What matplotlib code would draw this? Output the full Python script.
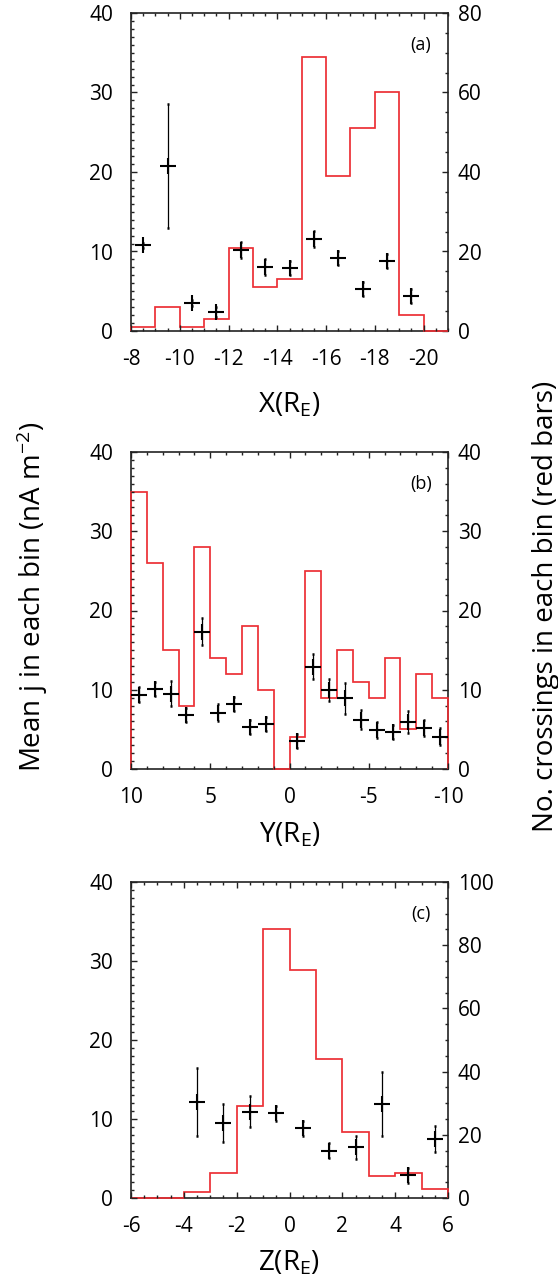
import numpy as np
import matplotlib
matplotlib.use("Agg")
import matplotlib.pyplot as plt
from matplotlib.ticker import MultipleLocator

# ==========================
# DATA
# ==========================
nan = np.nan

# panel (a): X
a_edges = [-8, -9, -10, -11, -12, -13, -14, -15, -16, -17, -18, -19, -20, -21]
a_counts = [1, 6, 1, 3, 21, 11, 13, 69, 39, 51, 60, 4, 0]
a_mean = [10.8, 20.7, 3.5, 2.4, 10.2, 8.1, 7.9, 11.6, 9.2, 5.3, 8.8, 4.4, nan]
a_err = [0.3, 7.8, 0.4, 0.6, 1.0, 1.0, 0.9, 1.0, 0.9, 0.9, 0.9, 0.9, nan]

# panel (b): Y
b_edges = [10, 9, 8, 7, 6, 5, 4, 3, 2, 1, 0, -1, -2, -3, -4, -5, -6, -7, -8, -9, -10]
b_counts = [35, 26, 15, 8, 28, 14, 12, 18, 10, 0, 4, 25, 9, 15, 11, 9, 14, 5, 12, 9]
b_mean = [9.4, 10.1, 9.5, 6.8, 17.3, 7.1, 8.2, 5.3, 5.7, nan,
          3.5, 12.9, 10.0, 8.9, 6.2, 4.9, 4.7, 5.9, 5.2, 4.1]
b_err = [0.9, 0.9, 1.6, 0.9, 1.7, 1.1, 0.9, 0.9, 0.9, nan,
         0.9, 1.6, 1.4, 2.0, 1.2, 1.0, 0.9, 1.4, 1.0, 1.1]

# panel (c): Z
c_edges = [-6, -5, -4, -3, -2, -1, 0, 1, 2, 3, 4, 5, 6]
c_counts = [0, 0, 2, 8, 29, 85, 72, 44, 21, 7, 8, 3]
c_mean = [nan, nan, 12.2, 9.5, 10.9, 10.7, 8.8, 6.0, 6.4, 11.9, 2.9, 7.5]
c_err = [nan, nan, 4.3, 2.4, 1.95, 0.9, 1.0, 0.95, 1.4, 4.1, 0.95, 1.65]

RED = "#ec2f35"
W, H = 558, 1279
TICK_FS = 15

plt.rcParams["font.family"] = ["Open Sans", "DejaVu Sans"]
plt.rcParams["axes.unicode_minus"] = False
plt.rcParams["mathtext.fontset"] = "custom"
plt.rcParams["mathtext.rm"] = "Open Sans"
plt.rcParams["mathtext.it"] = "Open Sans:italic"
plt.rcParams["mathtext.bf"] = "Open Sans:bold"


def panel(rect, edges, counts, mean, err, xr, xmaj, xmin, cmax, cmaj, cmin,
          tag, xlabel, xlab_y, xticks=None):
    ax = fig.add_axes(rect)
    ax2 = ax.twinx()
    edges = np.array(edges, dtype=float)
    centers = (edges[:-1] + edges[1:]) / 2

    # garis merah di atas spine, jadi bin kosong tetap kelihatan di dasar
    ax2.stairs(counts, edges, color=RED, lw=1.25, baseline=0,
               zorder=3, clip_on=False)
    ax.errorbar(centers, mean, yerr=err, fmt="none", ecolor="black",
                elinewidth=0.9, capsize=1.0, capthick=1.8)
    ax.plot(centers, mean, ls="none", marker="+", ms=11.5, mew=1.5, color="black")

    ax.set_xlim(*xr)
    ax.set_ylim(0, 40)
    ax2.set_ylim(0, cmax)

    # sumbu kiri di atas sumbu kanan supaya tanda + tidak tertutup garis merah
    ax.set_zorder(ax2.get_zorder() + 1)
    ax.patch.set_visible(False)
    for s in ax.spines.values():
        s.set_visible(False)

    ax.xaxis.set_major_locator(MultipleLocator(xmaj))
    ax.xaxis.set_minor_locator(MultipleLocator(xmin))
    ax.yaxis.set_major_locator(MultipleLocator(10))
    ax.yaxis.set_minor_locator(MultipleLocator(1))
    ax2.yaxis.set_major_locator(MultipleLocator(cmaj))
    ax2.yaxis.set_minor_locator(MultipleLocator(cmin))
    if xticks is not None:
        ax.set_xticks(xticks)

    ax.tick_params(which="both", direction="in", top=True, right=False,
                   labelsize=TICK_FS, width=1.0, color="#222222")
    ax.tick_params(which="major", length=4.5)
    ax.tick_params(which="minor", length=2.2)
    ax.tick_params(axis="x", which="major", pad=13)
    ax.tick_params(axis="y", which="major", pad=13)
    ax2.tick_params(which="both", direction="in", labelsize=TICK_FS, width=1.0,
                    color="#222222")
    ax2.tick_params(which="major", length=4.5, pad=7)
    ax2.tick_params(which="minor", length=2.2)

    for s in ax2.spines.values():
        s.set_linewidth(1.2)
        s.set_color("#222222")

    ax.text(0.915, 0.90, tag, transform=ax.transAxes, ha="center",
            va="center", fontsize=13)
    ax.text(0.5, xlab_y, xlabel, transform=ax.transAxes, ha="center",
            va="center", fontsize=20)
    return ax


fig = plt.figure(figsize=(W / 100, H / 100), dpi=100)

left = 131 / W
width = 317 / W

panel([left, 1 - 331 / H, width, 318 / H], a_edges, a_counts, a_mean, a_err,
      (-8, -21), 2, 0.5, 80, 20, 5, "(a)", r"X(R$_\mathrm{E}$)", -0.235,
      xticks=[-8, -10, -12, -14, -16, -18, -20])
panel([left, 1 - 769 / H, width, 317 / H], b_edges, b_counts, b_mean, b_err,
      (10, -10), 5, 1, 40, 10, 2, "(b)", r"Y(R$_\mathrm{E}$)", -0.21)
panel([left, 1 - 1198 / H, width, 316 / H], c_edges, c_counts, c_mean, c_err,
      (-6, 6), 2, 0.5, 100, 20, 5, "(c)", r"Z(R$_\mathrm{E}$)", -0.205)

fig.text(32 / W, 1 - 597 / H, r"Mean j in each bin (nA m$^{-2}$)",
         rotation=90, ha="center", va="center", fontsize=20)
fig.text(546 / W, 1 - 606 / H, "No. crossings in each bin (red bars)",
         rotation=90, ha="center", va="center", fontsize=20)

fig.savefig("out.png", dpi=100)
